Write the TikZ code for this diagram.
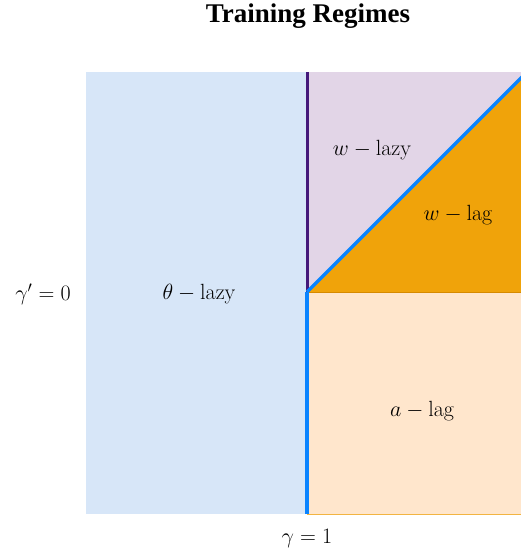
\RequirePackage{fix-cm}
\documentclass[tikz,border=0pt]{standalone}
\usepackage{fontspec}
\newfontfamily\titlefont{Liberation Serif}
\definecolor{lblue}{HTML}{D7E6F8}
\definecolor{lpurple}{HTML}{E2D5E7}
\definecolor{orng}{HTML}{F0A30A}
\definecolor{peach}{HTML}{FFE6CC}
\definecolor{orngline}{HTML}{D68A00}
\definecolor{peachline}{HTML}{F2B442}
\definecolor{purpline}{HTML}{45197A}
\definecolor{blueline}{HTML}{0A84FF}
\begin{document}
\begin{tikzpicture}[x=1pt,y=-1pt,
  lbl/.style={font=\fontsize{22}{26}\selectfont, inner sep=0pt},
  bnd/.style={line width=3.5pt, blueline},
  ttl/.style={font=\titlefont\bfseries\fontsize{27}{30}\selectfont, inner sep=0pt}]
\useasboundingbox (0,0) rectangle (521,554);
\coordinate (top) at (307,72);
\coordinate (mid) at (307,292);
\coordinate (bot) at (307,514);
\coordinate (diagend) at (530,69);
\coordinate (midR) at (530,292);
\coordinate (botR) at (530,514);
\begin{scope}
\clip (0,0) rectangle (521,554);
\fill[lblue] (86,72) rectangle (bot);
\fill[lpurple] (top) rectangle (midR);
\fill[orng] (mid) -- (527,72) -- (530,72) -- (midR) -- cycle;
\fill[peach] (mid) rectangle (botR);
\draw[peachline, line width=1pt] (bot) -- (botR);
\draw[orngline, line width=1pt] (mid) -- (midR);
\draw[purpline, line width=3pt] (top) -- (mid);
\draw[bnd] (mid) -- (bot);
\draw[bnd] (mid) -- (diagend);
\end{scope}
\node[ttl, anchor=base] (title) at (308,22) {Training Regimes};
\node[lbl] (wlazy) at (372,150) {$w-\mathrm{lazy}$};
\node[lbl] (wlag) at (458,215) {$w-\mathrm{lag}$};
\node[lbl] (thlazy) at (199,294) {$\theta-\mathrm{lazy}$};
\node[lbl] (alag) at (422,411) {$a-\mathrm{lag}$};
\node[lbl] (g1) at (307,539) {$\gamma=1$};
\node[lbl] (g0) at (43,294) {$\gamma'=0$};
\end{tikzpicture}
\end{document}
